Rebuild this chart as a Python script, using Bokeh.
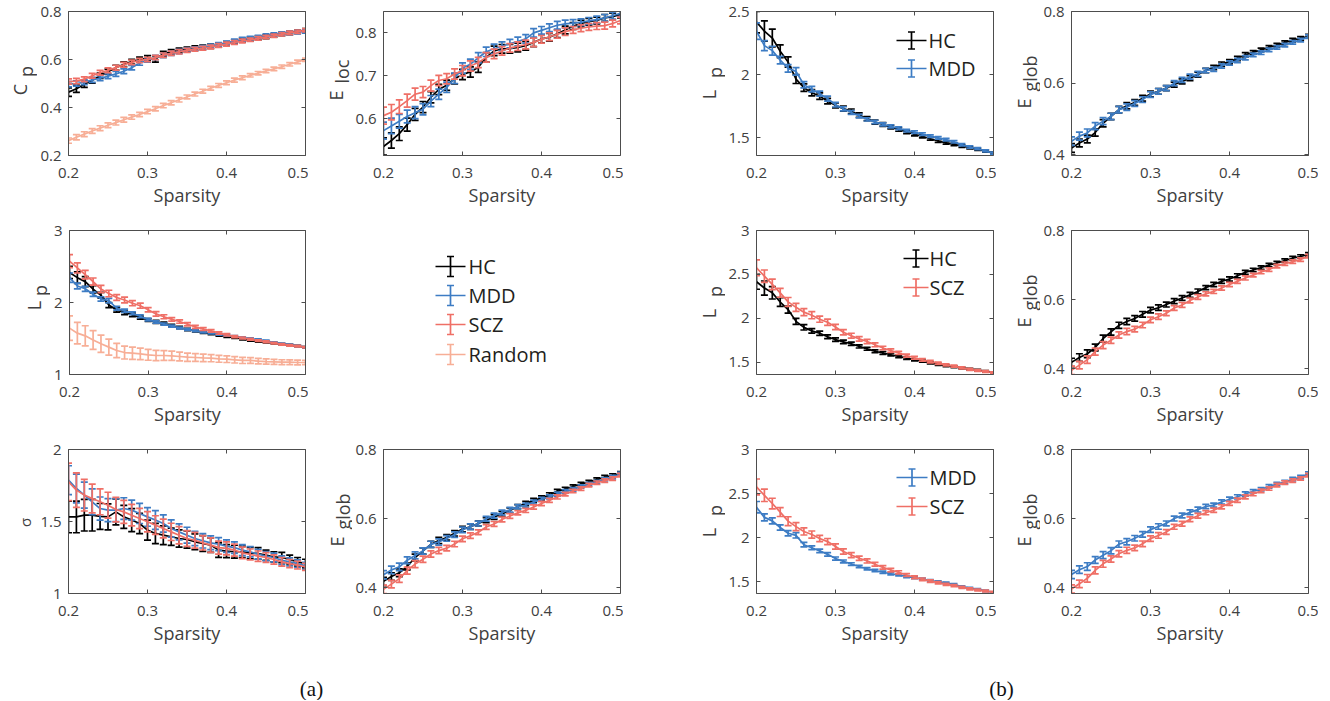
import math
from bokeh.plotting import figure
from bokeh.models import Range1d, FixedTicker, LinearAxis, Label, Arrow, TeeHead, CustomJSTickFormatter
from bokeh.layouts import column, row
from bokeh.embed import file_html
from bokeh.resources import INLINE

# ---------------- data ----------------
sparsity = [0.20, 0.21, 0.22, 0.23, 0.24, 0.25, 0.26, 0.27, 0.28, 0.29, 0.30,
            0.31, 0.32, 0.33, 0.34, 0.35, 0.36, 0.37, 0.38, 0.39, 0.40,
            0.41, 0.42, 0.43, 0.44, 0.45, 0.46, 0.47, 0.48, 0.49, 0.50]
x_ticks = [0.2, 0.3, 0.4, 0.5]

cp_hc = [0.464, 0.478, 0.497, 0.513, 0.532, 0.549, 0.566, 0.580, 0.591, 0.600, 0.606, 0.602, 0.624, 0.632, 0.638, 0.643,
         0.648, 0.651, 0.655, 0.660, 0.667, 0.674, 0.680, 0.685, 0.690, 0.695, 0.700, 0.706, 0.711, 0.716, 0.722]
cp_hc_err = [0.018, 0.015, 0.013, 0.012, 0.011, 0.011, 0.010, 0.010, 0.010, 0.010, 0.010, 0.013, 0.010, 0.009, 0.009, 0.009,
             0.009, 0.009, 0.009, 0.009, 0.008, 0.008, 0.008, 0.008, 0.008, 0.008, 0.007, 0.007, 0.007, 0.007, 0.007]
cp_mdd = [0.497, 0.500, 0.505, 0.515, 0.522, 0.530, 0.540, 0.551, 0.566, 0.585, 0.598, 0.608, 0.617, 0.626, 0.633, 0.639,
          0.645, 0.650, 0.656, 0.662, 0.669, 0.677, 0.684, 0.689, 0.694, 0.700, 0.704, 0.708, 0.711, 0.714, 0.717]
cp_scz = [0.508, 0.510, 0.518, 0.532, 0.545, 0.555, 0.566, 0.578, 0.588, 0.596, 0.600, 0.608, 0.618, 0.626, 0.632, 0.638,
          0.643, 0.647, 0.652, 0.658, 0.664, 0.671, 0.677, 0.682, 0.688, 0.694, 0.699, 0.705, 0.711, 0.716, 0.722]
cp_rand = [0.262, 0.276, 0.289, 0.302, 0.314, 0.326, 0.337, 0.349, 0.360, 0.371, 0.383, 0.395, 0.408, 0.420, 0.432, 0.444,
           0.456, 0.468, 0.480, 0.492, 0.503, 0.514, 0.524, 0.534, 0.543, 0.552, 0.561, 0.570, 0.580, 0.590, 0.599]
cp_err = [0.011, 0.011, 0.010, 0.010, 0.010, 0.010, 0.010, 0.010, 0.009, 0.009, 0.009, 0.009, 0.009, 0.009, 0.009, 0.008,
          0.008, 0.008, 0.008, 0.008, 0.008, 0.008, 0.008, 0.007, 0.007, 0.007, 0.007, 0.007, 0.007, 0.007, 0.007]

eloc_hc = [0.535, 0.549, 0.565, 0.586, 0.610, 0.627, 0.650, 0.668, 0.678, 0.693, 0.703, 0.709, 0.720, 0.743, 0.758, 0.763,
           0.763, 0.766, 0.770, 0.778, 0.786, 0.790, 0.798, 0.807, 0.816, 0.822, 0.826, 0.829, 0.835, 0.838, 0.843]
eloc_mdd = [0.572, 0.583, 0.594, 0.605, 0.614, 0.622, 0.641, 0.657, 0.673, 0.694, 0.718, 0.727, 0.742, 0.756, 0.763, 0.769,
            0.775, 0.780, 0.786, 0.800, 0.806, 0.812, 0.818, 0.821, 0.823, 0.825, 0.828, 0.831, 0.835, 0.840, 0.846]
eloc_scz = [0.607, 0.615, 0.628, 0.642, 0.657, 0.662, 0.677, 0.689, 0.693, 0.704, 0.712, 0.723, 0.731, 0.743, 0.751, 0.758,
            0.765, 0.769, 0.773, 0.778, 0.785, 0.791, 0.797, 0.803, 0.807, 0.811, 0.814, 0.816, 0.817, 0.822, 0.829]
eloc_err = [0.020, 0.018, 0.016, 0.015, 0.014, 0.013, 0.013, 0.012, 0.012, 0.012, 0.012, 0.012, 0.012, 0.011, 0.011, 0.010,
            0.010, 0.010, 0.010, 0.010, 0.009, 0.009, 0.009, 0.009, 0.008, 0.008, 0.008, 0.008, 0.008, 0.008, 0.008]

lp_hc = [2.416, 2.345, 2.290, 2.185, 2.100, 1.965, 1.897, 1.857, 1.830, 1.790, 1.757, 1.731, 1.710, 1.680, 1.652, 1.625,
         1.605, 1.585, 1.566, 1.546, 1.527, 1.512, 1.493, 1.475, 1.460, 1.448, 1.435, 1.421, 1.409, 1.395, 1.378]
lp_hc_err = [0.085, 0.080, 0.070, 0.050, 0.040, 0.035, 0.030, 0.025, 0.025, 0.022, 0.020, 0.020, 0.018, 0.018, 0.016, 0.016,
             0.015, 0.014, 0.014, 0.013, 0.012, 0.012, 0.011, 0.011, 0.010, 0.010, 0.010, 0.009, 0.009, 0.009, 0.008]
lp_mdd = [2.345, 2.230, 2.190, 2.115, 2.050, 2.026, 1.920, 1.885, 1.850, 1.810, 1.762, 1.730, 1.700, 1.672, 1.646, 1.626,
          1.607, 1.590, 1.576, 1.557, 1.545, 1.530, 1.513, 1.499, 1.486, 1.468, 1.445, 1.428, 1.414, 1.396, 1.378]
lp_mdd_err = [0.065, 0.040, 0.035, 0.030, 0.030, 0.030, 0.025, 0.022, 0.020, 0.020, 0.018, 0.016, 0.015, 0.014, 0.013, 0.013,
              0.012, 0.012, 0.011, 0.011, 0.011, 0.010, 0.010, 0.010, 0.010, 0.009, 0.009, 0.009, 0.008, 0.008, 0.008]
lp_scz = [2.575, 2.480, 2.387, 2.290, 2.187, 2.125, 2.070, 2.035, 1.990, 1.955, 1.900, 1.842, 1.802, 1.766, 1.736, 1.698,
          1.662, 1.632, 1.606, 1.576, 1.551, 1.527, 1.507, 1.489, 1.470, 1.455, 1.436, 1.418, 1.405, 1.394, 1.380]
lp_scz_err = [0.090, 0.070, 0.060, 0.050, 0.050, 0.045, 0.040, 0.040, 0.035, 0.035, 0.030, 0.030, 0.028, 0.025, 0.024, 0.022,
              0.020, 0.020, 0.018, 0.017, 0.016, 0.015, 0.014, 0.013, 0.012, 0.012, 0.011, 0.011, 0.010, 0.010, 0.009]
lp_rand = [1.644, 1.574, 1.537, 1.480, 1.426, 1.380, 1.333, 1.305, 1.296, 1.287, 1.273, 1.264, 1.264, 1.260, 1.250, 1.240,
           1.236, 1.230, 1.227, 1.218, 1.213, 1.204, 1.195, 1.195, 1.185, 1.180, 1.176, 1.171, 1.171, 1.167, 1.167]
lp_rand_err = [0.170, 0.150, 0.140, 0.130, 0.120, 0.110, 0.100, 0.090, 0.085, 0.080, 0.075, 0.070, 0.068, 0.065, 0.060, 0.058,
               0.055, 0.052, 0.050, 0.048, 0.046, 0.044, 0.042, 0.040, 0.038, 0.036, 0.035, 0.034, 0.033, 0.032, 0.030]

sig_hc = [1.532, 1.532, 1.544, 1.544, 1.535, 1.532, 1.567, 1.532, 1.510, 1.486, 1.440, 1.417, 1.405, 1.394, 1.382, 1.375,
          1.359, 1.347, 1.336, 1.301, 1.294, 1.290, 1.290, 1.280, 1.278, 1.266, 1.255, 1.250, 1.236, 1.220, 1.208]
sig_hc_err = [0.110, 0.110, 0.110, 0.110, 0.090, 0.090, 0.090, 0.080, 0.080, 0.070, 0.070, 0.070, 0.065, 0.060, 0.060, 0.060,
              0.055, 0.055, 0.050, 0.050, 0.045, 0.045, 0.040, 0.040, 0.040, 0.035, 0.035, 0.035, 0.030, 0.030, 0.030]
sig_mdd = [1.787, 1.729, 1.683, 1.637, 1.590, 1.579, 1.579, 1.590, 1.579, 1.556, 1.532, 1.510, 1.486, 1.451, 1.428, 1.405,
           1.382, 1.366, 1.352, 1.343, 1.329, 1.319, 1.301, 1.290, 1.273, 1.259, 1.250, 1.231, 1.220, 1.208, 1.192]
sig_mdd_err = [0.100, 0.100, 0.090, 0.090, 0.080, 0.080, 0.080, 0.075, 0.070, 0.070, 0.065, 0.065, 0.060, 0.060, 0.055, 0.055,
               0.050, 0.050, 0.048, 0.045, 0.043, 0.040, 0.038, 0.036, 0.034, 0.032, 0.030, 0.030, 0.028, 0.026, 0.025]
sig_scz = [1.775, 1.718, 1.683, 1.660, 1.637, 1.613, 1.583, 1.567, 1.544, 1.521, 1.498, 1.475, 1.451, 1.428, 1.405, 1.382,
           1.370, 1.352, 1.336, 1.319, 1.313, 1.301, 1.282, 1.271, 1.259, 1.250, 1.236, 1.220, 1.208, 1.197, 1.185]
sig_scz_err = [0.130, 0.120, 0.110, 0.100, 0.090, 0.090, 0.085, 0.080, 0.075, 0.070, 0.070, 0.065, 0.065, 0.060, 0.060, 0.055,
               0.055, 0.050, 0.050, 0.045, 0.045, 0.042, 0.040, 0.038, 0.036, 0.034, 0.032, 0.030, 0.028, 0.027, 0.025]

eg_hc = [0.419, 0.433, 0.444, 0.462, 0.488, 0.507, 0.526, 0.537, 0.546, 0.558, 0.570, 0.577, 0.586, 0.596, 0.605, 0.614,
         0.624, 0.635, 0.644, 0.653, 0.660, 0.669, 0.679, 0.686, 0.693, 0.700, 0.706, 0.713, 0.720, 0.725, 0.731]
eg_mdd = [0.438, 0.452, 0.461, 0.480, 0.494, 0.507, 0.526, 0.533, 0.543, 0.554, 0.568, 0.577, 0.586, 0.600, 0.609, 0.618,
          0.626, 0.635, 0.639, 0.648, 0.656, 0.663, 0.671, 0.679, 0.685, 0.693, 0.700, 0.706, 0.714, 0.720, 0.730]
eg_scz = [0.396, 0.411, 0.427, 0.450, 0.469, 0.483, 0.498, 0.508, 0.515, 0.527, 0.542, 0.551, 0.561, 0.576, 0.585, 0.598,
          0.608, 0.617, 0.624, 0.634, 0.644, 0.653, 0.663, 0.671, 0.680, 0.687, 0.697, 0.704, 0.710, 0.716, 0.726]
eg_err = [0.012, 0.011, 0.011, 0.010, 0.010, 0.009, 0.009, 0.009, 0.008, 0.008, 0.008, 0.008, 0.007, 0.007, 0.007, 0.007,
          0.007, 0.006, 0.006, 0.006, 0.006, 0.006, 0.006, 0.005, 0.005, 0.005, 0.005, 0.005, 0.005, 0.005, 0.005]

# ---------------- style ----------------
FONT = "Open Sans"
TXT = "#404040"
AXC = "#4d4d4d"
LEG_TXT = "#231f20"
COLORS = {"HC": "#000000", "MDD": "#3d7cc4", "SCZ": "#ef6f66", "Random": "#f7ae96"}
LW = 1.7

# row geometry: (height, top border, bottom border); frames are 144 px tall
ROWS = [(217, 11, 62), (219, 13, 62), (212, 13, 55)]


def style_axis(ax, ticks, show=True, standoff=7):
    ax.ticker = FixedTicker(ticks=ticks)
    ax.axis_line_color = AXC
    ax.axis_line_width = 1
    ax.major_tick_line_color = AXC
    ax.major_tick_line_width = 1
    ax.major_tick_in = 4
    ax.major_tick_out = 0
    ax.minor_tick_line_color = None
    ax.major_label_text_font = FONT
    ax.major_label_text_color = TXT
    if show:
        ax.major_label_text_font_size = "15px"
        ax.major_label_standoff = standoff
        ax.formatter = CustomJSTickFormatter(code="return String(Math.round(tick*100)/100);")
    else:
        ax.major_label_text_font_size = "0px"
        ax.major_label_standoff = 0
        ax.formatter = CustomJSTickFormatter(code="return '';")


def blank(width, ri):
    h, T, B = ROWS[ri]
    p = figure(width=width, height=h, x_range=Range1d(0, 1), y_range=Range1d(0, 1),
               x_axis_type=None, y_axis_type=None,
               min_border_left=0, min_border_right=0, min_border_top=T, min_border_bottom=B,
               output_backend="svg", toolbar_location=None, tools="")
    p.grid.visible = False
    p.outline_line_color = None
    return p


def panel(width, L, R, ri, yr, yticks):
    h, T, B = ROWS[ri]
    p = figure(width=width, height=h, min_border_left=L, min_border_right=R,
               min_border_top=T, min_border_bottom=B,
               x_range=Range1d(0.2, 0.5), y_range=Range1d(*yr),
               output_backend="svg", toolbar_location=None, tools="")
    p.grid.visible = False
    p.outline_line_color = None
    style_axis(p.xaxis[0], x_ticks, standoff=12)
    style_axis(p.yaxis[0], yticks)
    p.xaxis.axis_label = "Sparsity"
    p.xaxis.axis_label_text_font = FONT
    p.xaxis.axis_label_text_font_size = "18px"
    p.xaxis.axis_label_text_font_style = "normal"
    p.xaxis.axis_label_text_color = TXT
    p.xaxis.axis_label_standoff = 2
    top = LinearAxis()
    style_axis(top, x_ticks, show=False)
    p.add_layout(top, "above")
    right = LinearAxis()
    style_axis(right, yticks, show=False)
    p.add_layout(right, "right")
    return p


def series(p, y, err, color):
    lo = [a - e for a, e in zip(y, err)]
    hi = [a + e for a, e in zip(y, err)]
    p.line(sparsity, y, line_color=color, line_width=LW)
    p.segment(x0=sparsity, y0=lo, x1=sparsity, y1=hi, line_color=color, line_width=LW)
    p.scatter(sparsity + sparsity, lo + hi, marker="dash", size=7, line_color=color, line_width=LW)


def ylab(width, ri, parts, sub_shift=6):
    """parts: (main, sub, baseline_x, main_center_y, sub_center_y) in px of the label frame."""
    p = blank(width, ri)
    main, sub, bx, my, sy = parts
    p.add_layout(Label(x=bx, y=my, x_units="screen", y_units="screen", text=main,
                       angle=math.pi / 2, text_font=FONT, text_font_size="18px", text_color=TXT,
                       text_align="center", text_baseline="alphabetic"))
    p.add_layout(Label(x=bx + sub_shift, y=sy, x_units="screen", y_units="screen", text=sub,
                       angle=math.pi / 2, text_font=FONT, text_font_size="18px", text_color=TXT,
                       text_align="center", text_baseline="alphabetic"))
    return p


def legend_entry(p, x0, x1, y, half, tx, label, color, fs="20px"):
    p.add_layout(Arrow(x_start=x0, y_start=y, x_end=x1, y_end=y, start_units="screen", end_units="screen",
                       start=None, end=None, line_color=color, line_width=LW))
    xm = (x0 + x1) / 2
    p.add_layout(Arrow(x_start=xm, y_start=y - half, x_end=xm, y_end=y + half,
                       start_units="screen", end_units="screen",
                       start=TeeHead(size=7, line_color=color, line_width=LW),
                       end=TeeHead(size=7, line_color=color, line_width=LW),
                       line_color=color, line_width=LW))
    p.add_layout(Label(x=tx, y=y, x_units="screen", y_units="screen", text=label, text_font=FONT,
                       text_font_size=fs, text_color=LEG_TXT, text_baseline="middle"))


# column layout: label strip + panel (frames at x = 67, 382, 755, 1070; 238 px wide)
# ---------------- row 1 ----------------
l_a1 = ylab(37, 0, ("C", "p", 19.5, 66, 84))
a1 = panel(271, 30, 3, 0, (0.2, 0.8), [0.2, 0.4, 0.6, 0.8])
series(a1, cp_hc, cp_hc_err, COLORS["HC"])
series(a1, cp_mdd, cp_err, COLORS["MDD"])
series(a1, cp_scz, cp_err, COLORS["SCZ"])
series(a1, cp_rand, cp_err, COLORS["Random"])

l_a2 = ylab(44, 0, ("E", "loc", 27.5, 60, 84))
a2 = panel(271, 30, 3, 0, (0.514, 0.85), [0.6, 0.7, 0.8])
series(a2, eloc_hc, eloc_err, COLORS["HC"])
series(a2, eloc_mdd, eloc_err, COLORS["MDD"])
series(a2, eloc_scz, eloc_err, COLORS["SCZ"])

l_b1 = ylab(102, 0, ("L", "p", 85.5, 61, 83))
b1 = panel(271, 30, 3, 0, (1.36, 2.5), [1.5, 2, 2.5])
series(b1, lp_hc, lp_hc_err, COLORS["HC"])
series(b1, lp_mdd, lp_mdd_err, COLORS["MDD"])
legend_entry(b1, 140, 170, 115, 8.5, 172, "HC", COLORS["HC"])
legend_entry(b1, 140, 170, 87, 8.5, 172, "MDD", COLORS["MDD"])

l_b2 = ylab(44, 0, ("E", "glob", 27.5, 52, 82))
b2 = panel(278, 30, 10, 0, (0.398, 0.8), [0.4, 0.6, 0.8])
series(b2, eg_hc, eg_err, COLORS["HC"])
series(b2, eg_mdd, eg_err, COLORS["MDD"])

# ---------------- row 2 ----------------
l_a3 = ylab(50, 1, ("L", "p", 33.5, 69, 84))
a3 = panel(258, 17, 3, 1, (1, 3), [1, 2, 3])
series(a3, lp_hc, lp_hc_err, COLORS["HC"])
series(a3, lp_mdd, lp_mdd_err, COLORS["MDD"])
series(a3, lp_scz, lp_scz_err, COLORS["SCZ"])
series(a3, lp_rand, lp_rand_err, COLORS["Random"])

leg = blank(315, 1)
for yy, name in zip([108, 79, 50, 20], ["HC", "MDD", "SCZ", "Random"]):
    legend_entry(leg, 127, 157, yy, 10, 160, name, COLORS[name])

l_b3 = ylab(102, 1, ("L", "p", 85.5, 61, 83))
b3 = panel(271, 30, 3, 1, (1.36, 3), [1.5, 2, 2.5, 3])
series(b3, lp_hc, lp_hc_err, COLORS["HC"])
series(b3, lp_scz, lp_scz_err, COLORS["SCZ"])
legend_entry(b3, 147, 172, 116, 8.5, 173, "HC", COLORS["HC"])
legend_entry(b3, 147, 172, 87, 8.5, 173, "SCZ", COLORS["SCZ"])

l_b4 = ylab(44, 1, ("E", "glob", 27.5, 52, 82))
b4 = panel(278, 30, 10, 1, (0.384, 0.8), [0.4, 0.6, 0.8])
series(b4, eg_hc, eg_err, COLORS["HC"])
series(b4, eg_scz, eg_err, COLORS["SCZ"])

# ---------------- row 3 ----------------
l_a4 = blank(37, 2)
l_a4.add_layout(Label(x=24, y=71, x_units="screen", y_units="screen", text="σ", angle=math.pi / 2,
                      text_font=FONT, text_font_size="15px", text_color=TXT,
                      text_align="center", text_baseline="middle"))
a4 = panel(271, 30, 3, 2, (1, 2), [1, 1.5, 2])
series(a4, sig_hc, sig_hc_err, COLORS["HC"])
series(a4, sig_mdd, sig_mdd_err, COLORS["MDD"])
series(a4, sig_scz, sig_scz_err, COLORS["SCZ"])

l_a5 = ylab(44, 2, ("E", "glob", 28.5, 52, 82))
a5 = panel(271, 30, 3, 2, (0.384, 0.8), [0.4, 0.6, 0.8])
series(a5, eg_hc, eg_err, COLORS["HC"])
series(a5, eg_mdd, eg_err, COLORS["MDD"])
series(a5, eg_scz, eg_err, COLORS["SCZ"])

l_b5 = ylab(102, 2, ("L", "p", 85.5, 61, 83))
b5 = panel(271, 30, 3, 2, (1.366, 3), [1.5, 2, 2.5, 3])
series(b5, lp_mdd, lp_mdd_err, COLORS["MDD"])
series(b5, lp_scz, lp_scz_err, COLORS["SCZ"])
legend_entry(b5, 140, 171, 116, 8.5, 173, "MDD", COLORS["MDD"])
legend_entry(b5, 140, 171, 87, 8.5, 173, "SCZ", COLORS["SCZ"])

l_b6 = ylab(44, 2, ("E", "glob", 27.5, 52, 82))
b6 = panel(278, 30, 10, 2, (0.383, 0.8), [0.4, 0.6, 0.8])
series(b6, eg_mdd, eg_err, COLORS["MDD"])
series(b6, eg_scz, eg_err, COLORS["SCZ"])

# ---------------- captions ----------------
cap = figure(width=1318, height=52, x_range=Range1d(0, 1), y_range=Range1d(0, 1),
             x_axis_type=None, y_axis_type=None, min_border=0,
             output_backend="svg", toolbar_location=None, tools="")
cap.grid.visible = False
cap.outline_line_color = None
for xx, t in [(311, "(a)"), (1001, "(b)")]:
    cap.add_layout(Label(x=xx, y=12, x_units="screen", y_units="screen", text=t,
                         text_font="Liberation Serif", text_font_size="21px", text_color="#111111",
                         text_align="center", text_baseline="middle"))

layout = column(
    row(l_a1, a1, l_a2, a2, l_b1, b1, l_b2, b2),
    row(l_a3, a3, leg, l_b3, b3, l_b4, b4),
    row(l_a4, a4, l_a5, a5, l_b5, b5, l_b6, b6),
    cap,
)

with open("out.html", "w") as f:
    f.write(file_html(layout, INLINE))
